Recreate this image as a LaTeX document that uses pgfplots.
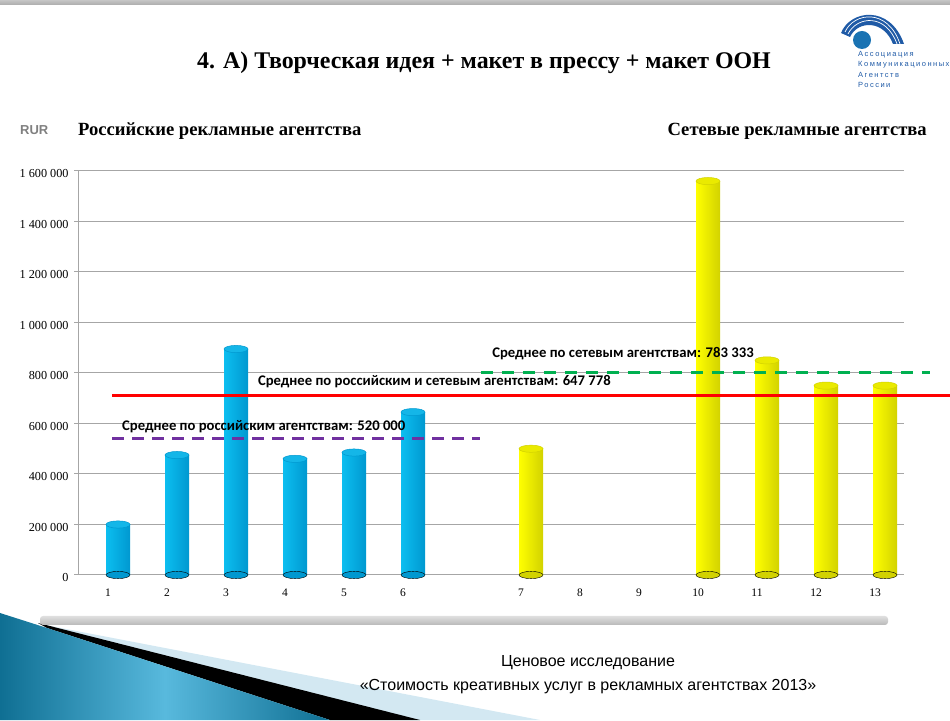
\documentclass[border=0pt]{standalone}
\usepackage{fontspec}
\setmainfont{Liberation Serif}
\newfontfamily\carlito{Carlito}
\newfontfamily\arial{Liberation Sans}
\newfontfamily\logofont[LetterSpace=20]{Liberation Sans}
\usepackage{pgfplots}
\pgfplotsset{compat=1.18}
\definecolor{cyanbar}{HTML}{0CBEF0}
\definecolor{cyandark}{HTML}{0098D0}
\definecolor{cyanlight}{HTML}{80E6FF}
\definecolor{cyantop}{HTML}{14B6E8}
\definecolor{yelbar}{HTML}{FFFF00}
\definecolor{yeldark}{HTML}{D2D200}
\definecolor{yellight}{HTML}{FFFF9A}
\definecolor{yeltop}{HTML}{EAEA00}
\definecolor{avgpurple}{HTML}{7030A0}
\definecolor{avggreen}{HTML}{00B050}
\definecolor{logoblue}{HTML}{1F5AA6}
\definecolor{gridgray}{HTML}{A6A6A6}
\definecolor{lightband}{HTML}{D3E8F2}
\definecolor{tealdark}{HTML}{0F6F93}
\definecolor{teallight}{HTML}{58B9DD}

% one cylinder: #1 = x, #2 = value, #3 = body colour (left), #4 = highlight, #5 = right/dark, #6 = top
\newcommand{\cyl}[6]{%
  \addplot[only marks, mark=*, mark size=12pt, mark options={yscale=0.3, fill=#5, draw=none}] coordinates {(#1,0)};
  \addplot[ybar, bar width=24pt, bar shift=0pt, draw=none, left color=#3, middle color=#4, right color=#5] coordinates {(#1,#2)};
  \addplot[only marks, mark=*, mark size=12pt, mark options={yscale=0.3, fill=#6, draw=#5, line width=0.5pt}] coordinates {(#1,#2)};
}

\begin{document}
\begin{tikzpicture}[x=1pt,y=1pt]
\useasboundingbox (0,0) rectangle (950,720);
% top strip
\fill[top color=gray!45, bottom color=gray!65] (0,715) rectangle (950,720);
% bottom-left decoration
\fill[lightband] (40,96) -- (540,0) -- (410,0) -- cycle;
\fill[black] (38,97) -- (420,0) -- (330,0) -- (47,92) -- cycle;
\shade[left color=tealdark, right color=tealdark, middle color=teallight] (0,107) -- (47,92) -- (330,0) -- (0,0) -- cycle;
% shadow bar
\shade[top color=gray!25, bottom color=gray!55, rounded corners=3pt] (40,95) rectangle (888,104);

% title
\node[font=\bfseries\fontsize{23.9}{28}\selectfont] at (484,657) {4. А) Творческая идея + макет в прессу + макет ООН};
\node[anchor=west, inner sep=0, font=\arial\bfseries\fontsize{13}{15}\selectfont, text=gray] at (20,590) {RUR};
\node[anchor=west, inner sep=0, font=\bfseries\fontsize{18.6}{22}\selectfont] at (78,589) {Российские рекламные агентства};
\node[anchor=east, inner sep=0, font=\bfseries\fontsize{18.6}{22}\selectfont] at (927,589) {Сетевые рекламные агентства};
% bottom text
\node[font=\arial\fontsize{16}{18}\selectfont] at (588,57) {Ценовое исследование};
\node[font=\arial\fontsize{16}{18}\selectfont] at (588,33) {«Стоимость креативных услуг в рекламных агентствах 2013»};
% logo
\fill[logoblue] (841,687) .. controls (850,710) and (890,716) .. (904,676) -- (893,676) .. controls (884,700) and (858,700) .. (850,683) -- cycle;
\draw[white, line width=0.7pt] (845,688) .. controls (854,708) and (888,712) .. (900,676);
\draw[white, line width=0.7pt] (848,686) .. controls (857,704) and (886,707) .. (897,676);
\fill[logoblue!85!cyan] (862,680) circle (9);
\node[anchor=west, inner sep=0, font=\logofont\fontsize{7.5}{8}\selectfont, text=logoblue] at (858,665) {Ассоциация};
\node[anchor=west, inner sep=0, font=\logofont\fontsize{7.5}{8}\selectfont, text=logoblue] at (858,655) {Коммуникационных};
\node[anchor=west, inner sep=0, font=\logofont\fontsize{7.5}{8}\selectfont, text=logoblue] at (858,645) {Агентств};
\node[anchor=west, inner sep=0, font=\logofont\fontsize{7.5}{8}\selectfont, text=logoblue] at (858,635) {России};

\begin{axis}[
  at={(78pt,145pt)}, anchor=south west,
  scale only axis, width=826pt, height=404pt,
  xmin=-0.678, xmax=13.322, ymin=0, ymax=1600000,
  clip=false, scaled y ticks=false,
  axis lines=left, axis line style={-, gridgray, line width=1pt},
  ymajorgrids, grid style={gridgray, line width=1pt},
  ytick={0,200000,400000,600000,800000,1000000,1200000,1400000,1600000},
  yticklabels={0,200 000,400 000,600 000,800 000,1 000 000,1 200 000,1 400 000,1 600 000},
  yticklabel style={font=\fontsize{12.2}{14}\selectfont, yshift=-3pt, xshift=-2pt},
  ytick style={gridgray, line width=1pt}, tick align=outside, major tick length=4pt,
  xtick={0,...,13},
  xticklabels={1,2,3,4,5,6,,7,8,9,10,11,12,13},
  xticklabel style={font=\fontsize{11.5}{13}\selectfont, xshift=-10pt, yshift=-6pt},
  x tick style={draw=none},
  extra x ticks={-0.678,0.322,1.322,2.322,3.322,4.322,5.322,6.322,7.322,8.322,9.322,10.322,11.322,12.322,13.322},
  extra x tick labels={},
  extra x tick style={tick style={draw=gridgray, line width=1pt}, major tick length=5pt, grid=none},
]
% Russian agencies
\cyl{0}{200000}{cyanbar}{cyanlight}{cyandark}{cyantop}
\cyl{1}{475000}{cyanbar}{cyanlight}{cyandark}{cyantop}
\cyl{2}{895000}{cyanbar}{cyanlight}{cyandark}{cyantop}
\cyl{3}{460000}{cyanbar}{cyanlight}{cyandark}{cyantop}
\cyl{4}{485000}{cyanbar}{cyanlight}{cyandark}{cyantop}
\cyl{5}{645000}{cyanbar}{cyanlight}{cyandark}{cyantop}
% network agencies
\cyl{7}{500000}{yelbar}{yellight}{yeldark}{yeltop}
\cyl{10}{1560000}{yelbar}{yellight}{yeldark}{yeltop}
\cyl{11}{850000}{yelbar}{yellight}{yeldark}{yeltop}
\cyl{12}{750000}{yelbar}{yellight}{yeldark}{yeltop}
\cyl{13}{750000}{yelbar}{yellight}{yeldark}{yeltop}
% averages
\addplot[avgpurple, line width=3pt, dash pattern=on 12pt off 8pt] coordinates {(-0.10,540000) (6.14,540000)};
\addplot[avggreen, line width=3pt, dash pattern=on 12pt off 9pt] coordinates {(6.15,800000) (13.76,800000)};
\addplot[red, line width=3pt] coordinates {(-0.10,712000) (14.1,712000)};
\node[anchor=west, inner sep=0, font=\carlito\bfseries\fontsize{14.7}{16}\selectfont] at (axis cs:0.068,586000) {Среднее по российским агентствам: 520 000};
\node[anchor=west, inner sep=0, font=\carlito\bfseries\fontsize{14.7}{16}\selectfont] at (axis cs:2.37,764000) {Среднее по российским и сетевым агентствам: 647 778};
\node[anchor=west, inner sep=0, font=\carlito\bfseries\fontsize{14.7}{16}\selectfont] at (axis cs:6.34,875000) {Среднее по сетевым агентствам: 783 333};
\end{axis}
\end{tikzpicture}
\end{document}
